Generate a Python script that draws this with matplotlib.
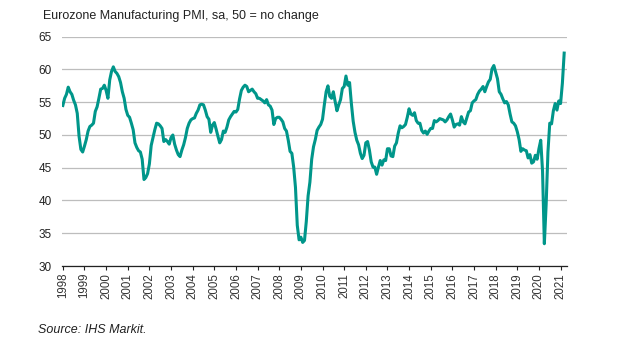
import numpy as np
import matplotlib.pyplot as plt

plt.rcParams['font.family'] = ['Liberation Sans', 'DejaVu Sans']

# ---- Data: monthly PMI, Jan 1998 .. Mar 2021 --------------------------------
pmi_by_year = {
    1998: [54.5, 55.6, 56.2, 57.3, 56.6, 56.2, 55.3, 54.6, 53.3, 49.8, 47.8, 47.4],
    1999: [48.3, 49.3, 50.6, 51.3, 51.5, 51.8, 53.6, 54.3, 55.6, 57.0, 57.1, 57.6],
    2000: [56.8, 55.6, 58.4, 59.7, 60.4, 59.7, 59.4, 58.9, 58.0, 56.6, 55.6, 53.9],
    2001: [53.0, 52.7, 51.8, 50.8, 48.8, 48.1, 47.6, 47.4, 46.3, 43.2, 43.5, 44.1],
    2002: [45.6, 48.4, 49.6, 50.8, 51.8, 51.7, 51.4, 51.0, 49.0, 49.3, 49.0, 48.6],
    2003: [49.6, 50.0, 48.6, 47.7, 47.0, 46.7, 47.7, 48.5, 49.6, 51.0, 51.8, 52.3],
    2004: [52.5, 52.6, 53.3, 53.8, 54.6, 54.7, 54.6, 53.8, 52.8, 52.4, 50.4, 51.5],
    2005: [51.9, 50.9, 49.8, 48.8, 49.3, 50.6, 50.4, 51.2, 52.3, 52.8, 53.2, 53.6],
    2006: [53.5, 53.9, 55.5, 56.8, 57.3, 57.6, 57.4, 56.6, 56.8, 57.0, 56.6, 56.3],
    2007: [55.6, 55.6, 55.4, 55.2, 54.9, 55.4, 54.6, 54.4, 53.8, 51.6, 52.5, 52.7],
    2008: [52.7, 52.4, 52.0, 51.0, 50.6, 49.2, 47.5, 47.2, 45.1, 42.0, 36.2, 34.0],
    2009: [34.4, 33.6, 33.9, 36.8, 40.7, 42.8, 46.3, 48.2, 49.3, 50.7, 51.2, 51.6],
    2010: [52.4, 54.6, 56.6, 57.5, 55.9, 55.6, 56.6, 55.1, 53.7, 54.6, 55.4, 57.1],
    2011: [57.4, 59.0, 57.6, 58.0, 54.8, 52.1, 50.4, 49.2, 48.5, 47.2, 46.4, 46.9],
    2012: [48.8, 49.0, 47.7, 45.9, 45.1, 45.1, 44.0, 45.1, 46.1, 45.4, 46.2, 46.1],
    2013: [47.9, 47.9, 46.8, 46.7, 48.3, 48.8, 50.3, 51.4, 51.1, 51.3, 51.6, 52.7],
    2014: [54.0, 53.2, 53.0, 53.4, 52.2, 51.8, 51.8, 50.7, 50.3, 50.6, 50.1, 50.6],
    2015: [51.0, 51.0, 52.2, 52.0, 52.2, 52.5, 52.4, 52.3, 52.0, 52.3, 52.8, 53.2],
    2016: [52.3, 51.2, 51.6, 51.7, 51.5, 52.8, 52.0, 51.7, 52.6, 53.5, 53.7, 54.9],
    2017: [55.2, 55.4, 56.2, 56.7, 57.0, 57.4, 56.6, 57.4, 58.1, 58.5, 60.1, 60.6],
    2018: [59.6, 58.6, 56.6, 56.2, 55.5, 54.9, 55.1, 54.6, 53.2, 52.0, 51.8, 51.4],
    2019: [50.5, 49.3, 47.5, 47.9, 47.7, 47.6, 46.5, 47.0, 45.7, 45.9, 46.9, 46.3],
    2020: [47.9, 49.2, 44.5, 33.4, 39.4, 47.4, 51.8, 51.7, 53.7, 54.8, 53.8, 55.2],
    2021: [54.8, 57.9, 62.5],
}
years = list(pmi_by_year.keys())
pmi = [v for y in years for v in pmi_by_year[y]]
month_idx = np.arange(len(pmi))
year_ticks = [12 * i for i in range(len(years))]
year_labels = [str(y) for y in years]

# ---- Figure ------------------------------------------------------------------
fig = plt.figure(figsize=(6.18, 3.48), dpi=100)
ax = fig.add_axes([0.1005, 0.2356, 0.8165, 0.6589])

ax.plot(month_idx, pmi, color="#00968a", linewidth=2.2, solid_joinstyle="round")

ax.set_xlim(-0.4, 279.4)
ax.set_ylim(30, 65)
ax.set_yticks(range(30, 66, 5))
ax.set_xticks(year_ticks)
ax.set_xticklabels(year_labels, rotation=90, fontsize=8.3, color="#333333")
ax.tick_params(axis="y", length=0, labelsize=8.5, labelcolor="#222222", pad=7.5)
ax.tick_params(axis="x", length=3, width=0.8, color="#222222", pad=2)

ax.grid(True, axis="y", color="#bdbdbd", linewidth=0.9)
ax.set_axisbelow(True)
for s in ("top", "right", "left"):
    ax.spines[s].set_visible(False)
ax.spines["bottom"].set_color("#222222")
ax.spines["bottom"].set_linewidth(0.9)

fig.text(0.069, 0.955, "Eurozone Manufacturing PMI, sa, 50 = no change",
         fontsize=9, color="#222222", va="center")
fig.text(0.061, 0.052, "Source: IHS Markit.", fontsize=9, style="italic",
         color="#222222", va="center")

fig.savefig("out.png", dpi=100)
